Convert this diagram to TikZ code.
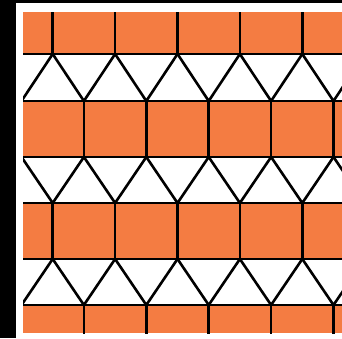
\documentclass[tikz,border=0pt]{standalone}
\definecolor{tileorange}{RGB}{244,124,66}
\begin{document}
\begin{tikzpicture}[x=1pt,y=-1pt,
  edge/.style={black,line width=2.6pt,line join=round},
  tile/.style={fill=tileorange}]
\useasboundingbox (0,0) rectangle (342,338);
\fill[white] (0,0) rectangle (342,338);
\fill[black] (0,0) rectangle (16,338);
\fill[black] (16,0) rectangle (342,3);
\begin{scope}
\clip (23,12) rectangle (342,333);
\foreach \ya/\yb in {12/54,101/157,203/259,305/333}
  \fill[tile] (23,\ya) rectangle (342,\yb);
% vertical edges of the squares
\foreach \ya/\yb/\off in {5/54/52.7, 101/157/83.9, 203/259/52.7, 305/340/83.9}
  \foreach \k in {-1,...,5}
    \draw[edge] ({\off+\k*62.4},\ya) -- ({\off+\k*62.4},\yb);
% horizontal edges
\foreach \y in {54,101,157,203,259,305}
  \draw[edge] (15,\y) -- (350,\y);
% triangle zigzags
\foreach \ya/\yb/\ta in {54/101/52.7, 157/203/83.9, 259/305/52.7}
  \foreach \k in {-1,...,5}
    \draw[edge] ({\ta+\k*62.4},\ya) -- ({\ta+\k*62.4+31.2},\yb) -- ({\ta+(\k+1)*62.4},\ya);
\end{scope}
\end{tikzpicture}
\end{document}
